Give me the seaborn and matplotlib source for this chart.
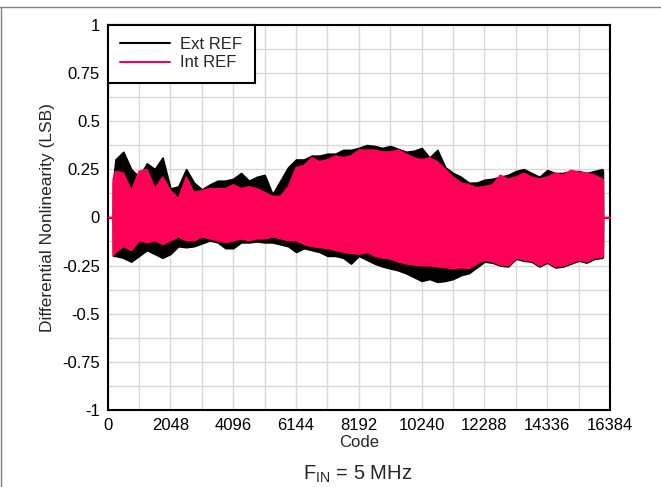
import numpy as np
import pandas as pd
import matplotlib.pyplot as plt
from matplotlib.lines import Line2D
import seaborn as sns

# Envelope of the DNL band (code steps of 256)
codes = [0, 170, 176, 256, 512, 768, 1024, 1280, 1536, 1792, 2048, 2304, 2560, 2816,
         3072, 3328, 3584, 3840, 4096, 4352, 4608, 4864, 5120, 5376, 5632, 5888,
         6144, 6400, 6656, 6912, 7168, 7424, 7680, 7936, 8192, 8448, 8704, 8960,
         9216, 9472, 9728, 9984, 10240, 10496, 10752, 11008, 11264, 11520, 11776,
         12032, 12288, 12544, 12800, 13056, 13312, 13568, 13824, 14080, 14336,
         14592, 14848, 15104, 15360, 15616, 15872, 16128, 16150, 16156, 16383]

ext_hi = [0, 0, 0.18, 0.30, 0.34, 0.25, 0.21, 0.28, 0.25, 0.31, 0.15, 0.16, 0.25, 0.18,
          0.145, 0.17, 0.19, 0.19, 0.20, 0.23, 0.19, 0.21, 0.22, 0.12, 0.19, 0.26,
          0.30, 0.30, 0.32, 0.32, 0.33, 0.33, 0.35, 0.35, 0.36, 0.375, 0.37, 0.36,
          0.37, 0.355, 0.34, 0.345, 0.36, 0.31, 0.35, 0.26, 0.23, 0.21, 0.18,
          0.18, 0.195, 0.20, 0.21, 0.22, 0.24, 0.25, 0.23, 0.21, 0.245,
          0.23, 0.23, 0.24, 0.24, 0.23, 0.24, 0.25, 0.24, 0, 0]
ext_lo = [0, 0, -0.20, -0.20, -0.21, -0.23, -0.20, -0.17, -0.19, -0.21, -0.19, -0.15, -0.155, -0.15,
          -0.135, -0.12, -0.13, -0.16, -0.16, -0.13, -0.13, -0.125, -0.13, -0.13, -0.14, -0.15,
          -0.18, -0.16, -0.17, -0.18, -0.20, -0.20, -0.21, -0.24, -0.20, -0.22, -0.24, -0.255,
          -0.265, -0.275, -0.29, -0.31, -0.33, -0.32, -0.335, -0.33, -0.32, -0.30, -0.29,
          -0.26, -0.23, -0.235, -0.25, -0.255, -0.215, -0.225, -0.23, -0.255, -0.235,
          -0.26, -0.255, -0.24, -0.225, -0.235, -0.215, -0.21, -0.205, 0, 0]
int_hi = [0, 0, 0.20, 0.24, 0.23, 0.14, 0.24, 0.25, 0.15, 0.21, 0.14, 0.10, 0.21, 0.13,
          0.14, 0.15, 0.15, 0.15, 0.17, 0.15, 0.16, 0.15, 0.13, 0.11, 0.11, 0.16,
          0.26, 0.27, 0.31, 0.29, 0.30, 0.32, 0.31, 0.32, 0.35, 0.35, 0.35, 0.34,
          0.34, 0.35, 0.33, 0.31, 0.30, 0.31, 0.29, 0.25, 0.21, 0.18, 0.17,
          0.155, 0.16, 0.17, 0.22, 0.20, 0.21, 0.23, 0.21, 0.20, 0.21,
          0.23, 0.22, 0.245, 0.235, 0.23, 0.22, 0.20, 0.20, 0, 0]
int_lo = [0, 0, -0.20, -0.18, -0.15, -0.17, -0.12, -0.13, -0.12, -0.14, -0.12, -0.10, -0.12, -0.12,
          -0.10, -0.11, -0.12, -0.13, -0.12, -0.11, -0.12, -0.11, -0.11, -0.10, -0.11, -0.12,
          -0.12, -0.14, -0.15, -0.155, -0.16, -0.17, -0.18, -0.185, -0.19, -0.18, -0.20, -0.21,
          -0.215, -0.23, -0.24, -0.245, -0.25, -0.25, -0.255, -0.26, -0.265, -0.26, -0.265,
          -0.24, -0.22, -0.23, -0.245, -0.25, -0.21, -0.22, -0.225, -0.25, -0.23,
          -0.255, -0.25, -0.235, -0.22, -0.23, -0.21, -0.205, -0.20, 0, 0]

x_ticks = [0, 2048, 4096, 6144, 8192, 10240, 12288, 14336, 16384]
y_ticks = [-1, -0.75, -0.5, -0.25, 0, 0.25, 0.5, 0.75, 1]
y_labels = ['-1', '-0.75', '-0.5', '-0.25', '0', '0.25', '0.5', '0.75', '1']

ext_color = '#000000'
int_color = '#ff0058'

sns.set_style('white')
plt.rcParams['font.family'] = ['Liberation Sans', 'DejaVu Sans']
plt.rcParams['mathtext.fontset'] = 'custom'
plt.rcParams['mathtext.rm'] = 'Liberation Sans'

df = pd.DataFrame({'Code': codes, 'ext_hi': ext_hi, 'ext_lo': ext_lo,
                   'int_hi': int_hi, 'int_lo': int_lo})

fig = plt.figure(figsize=(6.61, 4.87), dpi=100)
ax = fig.add_axes([0.1628, 0.158, 0.7602, 0.7915])

# grid every 1024 codes / 0.125 LSB
ax.set_xticks(np.arange(0, 16385, 1024), minor=True)
ax.set_yticks(np.arange(-1, 1.001, 0.125), minor=True)
ax.grid(True, which='both', color='#d9d9d9', lw=1.0, zorder=0)
ax.set_axisbelow(True)

ax.fill_between(df['Code'], df['ext_lo'], df['ext_hi'], color=ext_color,
                edgecolor=ext_color, lw=1.2, zorder=2)
ax.fill_between(df['Code'], df['int_lo'], df['int_hi'], color=int_color,
                edgecolor=int_color, lw=0.8, zorder=3)
sns.lineplot(data=df, x='Code', y='int_hi', color=int_color, lw=0.8, ax=ax, zorder=3)
sns.lineplot(data=df, x='Code', y='int_lo', color=int_color, lw=0.8, ax=ax, zorder=3)

ax.set_xlim(0, 16384)
ax.set_ylim(-1, 1)
ax.set_xticks(x_ticks)
ax.set_xticklabels([str(t) for t in x_ticks])
ax.set_yticks(y_ticks)
ax.set_yticklabels(y_labels)
ax.tick_params(axis='both', which='both', length=0, labelsize=12, pad=5.5,
               colors='black')
ax.set_xlabel('Code', fontsize=12, labelpad=2)
ax.set_ylabel('Differential Nonlinearity (LSB)', fontsize=12.5, labelpad=5)

for s in ax.spines.values():
    s.set_visible(True)
    s.set_color('black')
    s.set_linewidth(1.5)

handles = [Line2D([], [], color=ext_color, lw=1.5, label='Ext REF'),
           Line2D([], [], color=int_color, lw=1.5, label='Int REF')]
leg = ax.legend(handles=handles, loc='upper left', borderaxespad=0,
                fontsize=12, handlelength=3.0, handletextpad=0.6,
                fancybox=False, framealpha=1, edgecolor='black',
                borderpad=0.75, labelspacing=0.2)
leg.get_frame().set_linewidth(1.5)

fig.text(0.541, 0.016, r'F$_{\mathrm{IN}}$ = 5 MHz', ha='center', va='baseline', fontsize=14.5)

# page frame lines
fig.add_artist(Line2D([0, 1], [0.986, 0.986], color='#808080', lw=1.0, transform=fig.transFigure))
fig.add_artist(Line2D([0.0015, 0.0015], [0, 0.986], color='#808080', lw=1.0, transform=fig.transFigure))

fig.savefig('out.png', dpi=100)
